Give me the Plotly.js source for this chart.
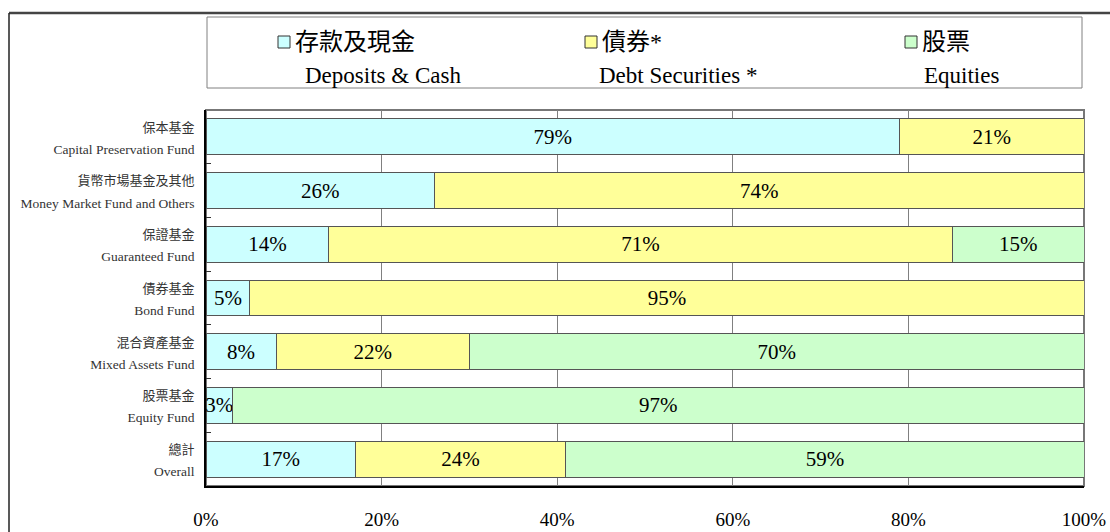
<!DOCTYPE html>
<html>
<head>
<meta charset="utf-8">
<script src="https://cdn.plot.ly/plotly-3.0.1.min.js"></script>
<style>html,body{margin:0;padding:0;background:#fff;}#chart{width:1110px;height:532px;}</style>
</head>
<body>
<div id="chart"></div>
<script>
// ---- data ----
const categoriesCn = ["保本基金", "貨幣市場基金及其他", "保證基金", "債券基金", "混合資產基金", "股票基金", "總計"];
const categoriesEn = ["Capital Preservation Fund", "Money Market Fund and Others", "Guaranteed Fund", "Bond Fund", "Mixed Assets Fund", "Equity Fund", "Overall"];
const seriesCn = ["存款及現金", "債券*", "股票"];
const seriesEn = ["Deposits & Cash", "Debt Securities *", "Equities"];
const depositsCash = [79, 26, 14, 5, 8, 3, 17];
const debtSecurities = [21, 74, 71, 95, 22, 0, 24];
const equities = [0, 0, 15, 0, 70, 97, 59];
const xTickValues = [0, 20, 40, 60, 80, 100];
const xTickLabels = ["0%", "20%", "40%", "60%", "80%", "100%"];

// ---- styles ----
const colors = ["#CCFFFF", "#FFFF99", "#CCFFCC"];
const SERIF = "'Liberation Serif', 'Times New Roman', 'Noto Sans CJK TC', serif";
const W = 1110, H = 532;
const M = {l: 206, r: 26, t: 110, b: 46};
const PW = W - M.l - M.r, PH = H - M.t - M.b;
const px = x => (x - M.l) / PW;
const py = y => (H - M.b - y) / PH;

const yLabels = categoriesCn.map((c, i) =>
  "<span style='font-size:13px'>" + c + "</span><br><span style='font-size:13.5px'>" + categoriesEn[i] + "</span>");

const seriesValues = [depositsCash, debtSecurities, equities];
const traces = seriesValues.map((vals, k) => ({
  type: "bar",
  orientation: "h",
  name: seriesCn[k],
  x: vals,
  y: yLabels,
  text: vals.map(v => v > 0 ? v + "%" : ""),
  textposition: "inside",
  insidetextanchor: "middle",
  textangle: 0,
  constraintext: "none",
  textfont: {family: SERIF, size: 21, color: "#000"},
  marker: {color: colors[k], line: {color: "#555", width: 1}},
  hoverinfo: "skip",
  cliponaxis: false
}));

const shapes = [
  // outer frame
  {type: "line", xref: "paper", yref: "paper", x0: px(9), x1: px(1112), y0: py(13), y1: py(13), line: {color: "#444", width: 2.5}},
  {type: "line", xref: "paper", yref: "paper", x0: px(9), x1: px(9), y0: py(13), y1: py(535), line: {color: "#222", width: 1.5}},
  // plot frame
  {type: "rect", xref: "paper", yref: "paper", x0: 0, x1: 1, y0: 0, y1: 1, line: {color: "#777", width: 2}, layer: "below"},
  // legend box
  {type: "rect", xref: "paper", yref: "paper", x0: px(207), x1: px(1082), y0: py(88), y1: py(17), line: {color: "#808080", width: 1}}
];
const annotations = [];
const legendX = [278, 585, 905];
const legendEnX = [303, 597, 922];
seriesCn.forEach((name, k) => {
  const x0 = legendX[k];
  shapes.push({type: "rect", xref: "paper", yref: "paper", x0: px(x0), x1: px(x0 + 12), y0: py(48), y1: py(36),
    fillcolor: colors[k], line: {color: "#333", width: 1}});
  annotations.push({xref: "paper", yref: "paper", x: px(x0 + 15), y: py(42), xanchor: "left", yanchor: "middle",
    text: name, showarrow: false, font: {family: SERIF, size: 24, color: "#000"}});
  annotations.push({xref: "paper", yref: "paper", x: px(legendEnX[k]), y: py(75), xanchor: "left", yanchor: "middle",
    text: seriesEn[k], showarrow: false, font: {family: SERIF, size: 23, color: "#000"}});
});

const layout = {
  width: W, height: H,
  margin: M,
  paper_bgcolor: "#fff",
  plot_bgcolor: "#fff",
  barmode: "stack",
  bargap: 0.33,
  showlegend: false,
  font: {family: SERIF, color: "#000"},
  xaxis: {
    range: [0, 100],
    tickvals: xTickValues,
    ticktext: xTickLabels,
    showgrid: true, gridcolor: "#808080", gridwidth: 1,
    showline: true, linecolor: "#000", linewidth: 2,
    ticks: "", zeroline: false,
    tickfont: {family: SERIF, size: 19, color: "#000"},
    ticklabelstandoff: 15,
    automargin: false, fixedrange: true
  },
  yaxis: {
    type: "category",
    autorange: "reversed",
    showline: true, linecolor: "#000", linewidth: 2,
    ticks: "inside", tickson: "boundaries", ticklen: 5, tickcolor: "#333",
    showgrid: false,
    tickfont: {family: SERIF, size: 17, color: "#333"},
    ticklabelstandoff: 6,
    automargin: false, fixedrange: true
  },
  shapes: shapes,
  annotations: annotations
};

Plotly.newPlot("chart", traces, layout, {displayModeBar: false, staticPlot: true});
</script>
</body>
</html>
